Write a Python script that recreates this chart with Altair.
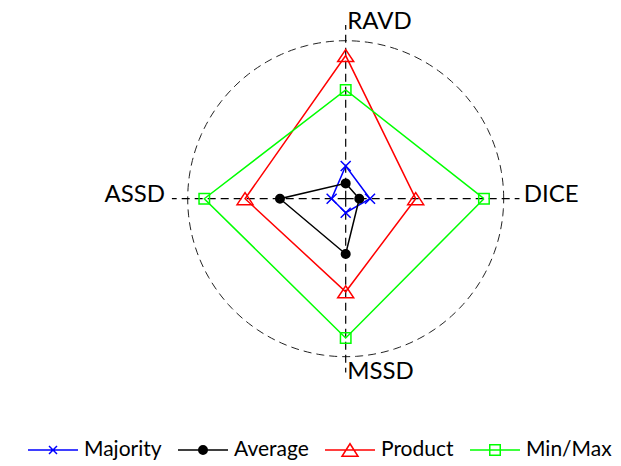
import altair as alt
import numpy as np
import pandas as pd

# ---- data ----
series = ["Majority", "Average", "Product", "Min/Max"]
axis_names = ["DICE", "RAVD", "ASSD", "MSSD"]
axis_angles = [0, 90, 180, 270]
majority = [0.154, 0.207, 0.089, 0.089]
average = [0.086, 0.097, 0.416, 0.350]
product = [0.443, 0.906, 0.637, 0.589]
minmax = [0.875, 0.688, 0.895, 0.882]
colors = ["#0000ff", "#000000", "#ff0000", "#00ff00"]

values = [majority, average, product, minmax]

# ---- long table (polar -> cartesian) ----
rows = []
n = len(axis_names)
for s, vals in zip(series, values):
    for k in range(n + 1):
        i = k % n
        a = np.deg2rad(axis_angles[i])
        rows.append(dict(series=s, axis=axis_names[i], order=k, value=vals[i],
                         x=vals[i] * np.cos(a), y=vals[i] * np.sin(a)))
df = pd.DataFrame(rows)

theta = np.deg2rad(np.arange(0, 362, 2))
df_circle = pd.DataFrame({"x": np.cos(theta), "y": np.sin(theta), "o": np.arange(len(theta))})

spoke_len = 1.1
ang = np.deg2rad(axis_angles)
df_spokes = pd.DataFrame({"x": 0.0, "y": 0.0,
                          "x2": spoke_len * np.cos(ang), "y2": spoke_len * np.sin(ang)})

label_r = 1.12
df_lab = pd.DataFrame({"axis": axis_names, "x": label_r * np.cos(ang), "y": label_r * np.sin(ang)})

xs = alt.Scale(domain=[-2.1373, 1.6918], nice=False, zero=False)
ys = alt.Scale(domain=[-1.6918, 1.2070], nice=False, zero=False)
cscale = alt.Scale(domain=series, range=colors)

X = alt.X("x:Q", scale=xs, axis=None)
Y = alt.Y("y:Q", scale=ys, axis=None)


def ring(r):
    return f"M{r},0A{r},{r},0,1,1,-{r},0A{r},{r},0,1,1,{r},0Z"


legend_paths = [
    "M-1,0H1M-0.16,-0.16L0.16,0.16M-0.16,0.16L0.16,-0.16",
    "M-1,0H1" + ring(0.17) + ring(0.11) + ring(0.05),
    "M-1,0H1M-0.32,0.25L0.32,0.25L0,-0.25Z",
    "M-1,0H1M-0.21,-0.21H0.21V0.21H-0.21Z",
]
leg = alt.Legend(
    title=None, orient="none", legendX=19, legendY=416, direction="horizontal",
    columns=4, symbolSize=2500, symbolStrokeWidth=1.5, symbolOpacity=1,
    labelFont="Lato", labelFontSize=21, labelColor="#000000", labelOffset=5,
    columnPadding=13, padding=0,
)
C = alt.Color("series:N", scale=cscale, legend=leg)

circle = alt.Chart(df_circle).mark_line(
    color="#222222", strokeWidth=1, strokeDash=[8, 5]
).encode(x=X, y=Y, order="o:Q")

spokes = alt.Chart(df_spokes).mark_rule(
    color="#000000", strokeWidth=1.2, strokeDash=[8, 5]
).encode(x=X, y=Y, x2="x2:Q", y2="y2:Q")

poly = alt.Chart(df).mark_line(strokeWidth=1.5).encode(
    x=X, y=Y, color=C, order="order:Q",
)

X_PATH = "M-1,-1L1,1M-1,1L1,-1"
DOT_PATH = ring(0.85) + ring(0.55) + ring(0.25)
TRI_PATH = "M-1,0.75L1,0.75L0,-0.75Z"
marker_styles = [
    dict(shape=X_PATH, size=100),
    dict(shape=DOT_PATH, size=100),
    dict(shape=TRI_PATH, size=256),
    dict(shape="square", size=110),
]
markers = []
for s, st in zip(series, marker_styles):
    markers.append(
        alt.Chart(df[df["order"] < n]).transform_filter(alt.datum.series == s)
        .mark_point(strokeWidth=1.5, opacity=1, filled=False, **st)
        .encode(x=X, y=Y, color=C)
    )

leg_df = pd.DataFrame({"series": series, "x": 0.0, "y": 0.0})
legend_layer = alt.Chart(leg_df).mark_point(size=0, strokeWidth=0, filled=False).encode(
    x=X, y=Y,
    color=C,
    shape=alt.Shape("series:N", scale=alt.Scale(domain=series, range=legend_paths), legend=leg),
)

label_styles = {
    "DICE": dict(align="left", dx=1, dy=-3.4),
    "RAVD": dict(align="left", dx=1.5, dy=0),
    "ASSD": dict(align="right", dx=-3.7, dy=-3.6),
    "MSSD": dict(align="left", dx=1.5, dy=-3.4),
}
labels = []
for a in axis_names:
    labels.append(
        alt.Chart(df_lab).transform_filter(alt.datum.axis == a)
        .mark_text(font="Lato", fontSize=24, color="#000000", baseline="middle", **label_styles[a])
        .encode(x=X, y=Y, text="axis:N")
    )

chart = alt.layer(circle, spokes, poly, *markers, legend_layer, *labels).properties(
    width=605, height=458,
    autosize=alt.AutoSizeParams(type="none"),
    padding=0,
).configure_view(stroke=None)

chart.save("out.html", embed_options={"renderer": "svg", "actions": False})
